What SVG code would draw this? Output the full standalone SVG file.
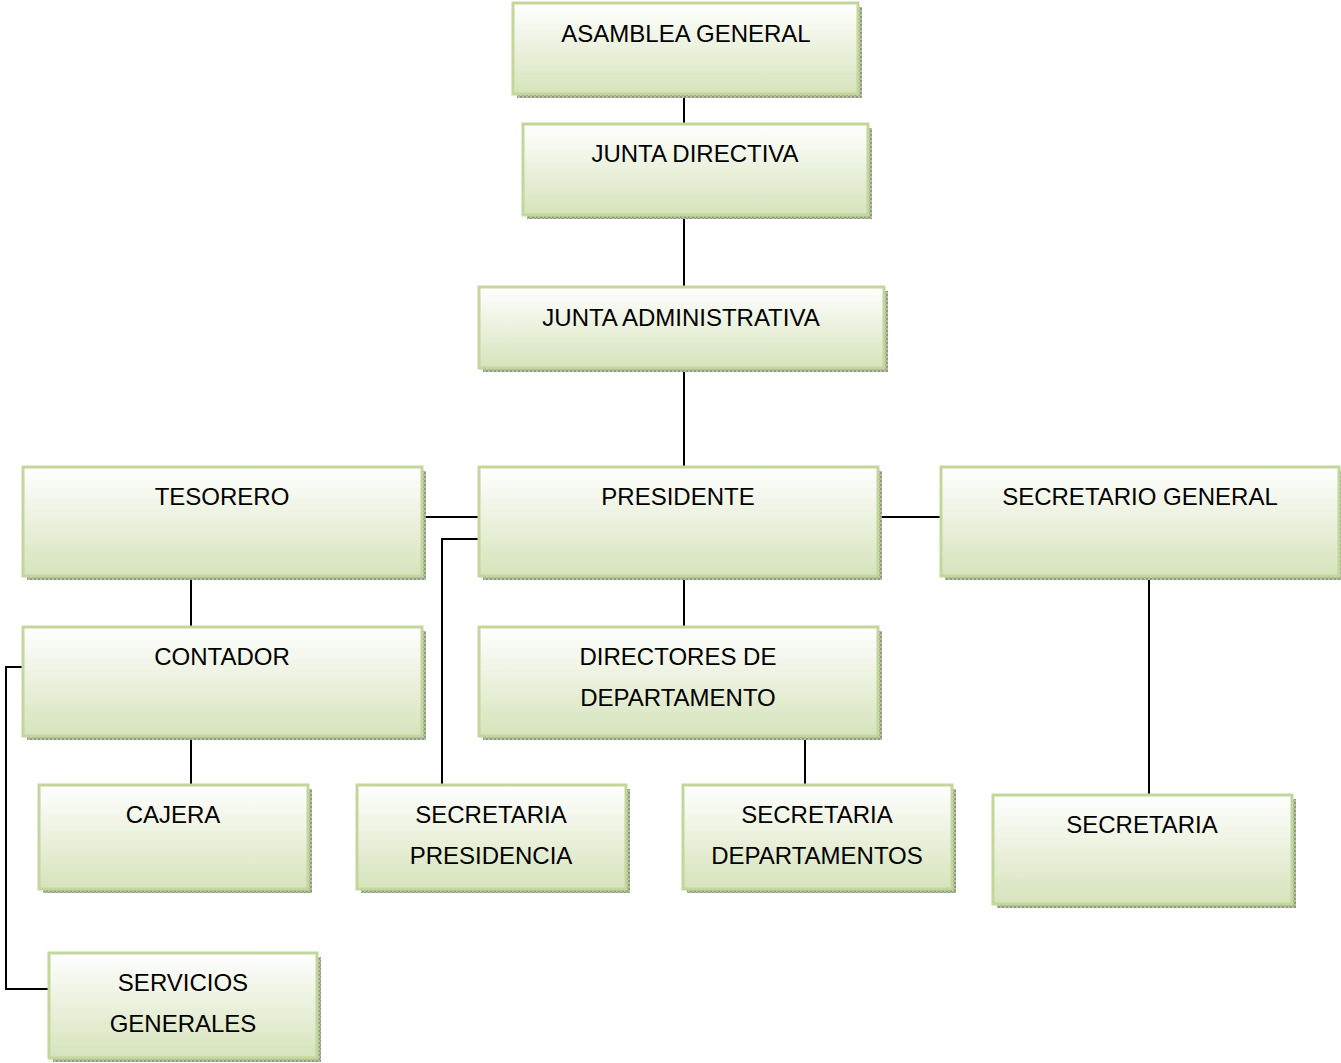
<svg xmlns="http://www.w3.org/2000/svg" width="1341" height="1063" viewBox="0 0 1341 1063">
<defs>
<linearGradient id="g" x1="0" y1="0" x2="0" y2="1">
<stop offset="0" stop-color="#ffffff"/>
<stop offset="1" stop-color="#d6e3bb"/>
</linearGradient>
<pattern id="sh" width="4" height="4" patternUnits="userSpaceOnUse">
<rect width="4" height="4" fill="#b4bfa3"/>
<rect width="2" height="2" fill="#8f9c80"/>
<rect x="2" y="2" width="2" height="2" fill="#8f9c80"/>
</pattern>
</defs>
<style>
.s{fill:url(#sh)}
.b{fill:url(#g);stroke:#c3d69b;stroke-width:3}
.t{font-family:"Liberation Sans",Arial,sans-serif;font-size:24px;fill:#000;text-anchor:middle}
.c{fill:none;stroke:#000;stroke-width:2}
</style>
<rect width="1341" height="1063" fill="#fff"/>
<g id="connectors">
<line class="c" x1="684" y1="94" x2="684" y2="124"/>
<line class="c" x1="684" y1="215" x2="684" y2="287"/>
<line class="c" x1="684" y1="368" x2="684" y2="467"/>
<line class="c" x1="684" y1="576" x2="684" y2="627"/>
<line class="c" x1="422" y1="517" x2="479" y2="517"/>
<line class="c" x1="878" y1="517" x2="941" y2="517"/>
<polyline class="c" points="479,539 442,539 442,785"/>
<line class="c" x1="191" y1="576" x2="191" y2="627"/>
<line class="c" x1="191" y1="736" x2="191" y2="785"/>
<polyline class="c" points="23,667 6,667 6,989 49,989"/>
<line class="c" x1="805" y1="736" x2="805" y2="785"/>
<line class="c" x1="1149" y1="576" x2="1149" y2="795"/>
</g>
<g id="n1"><rect class="s" x="517" y="7" width="345" height="91"/><rect class="b" x="513" y="3" width="345" height="91"/><text class="t" x="686" y="42">ASAMBLEA GENERAL</text></g>
<g id="n2"><rect class="s" x="527" y="128" width="345" height="91"/><rect class="b" x="523" y="124" width="345" height="91"/><text class="t" x="695" y="162">JUNTA DIRECTIVA</text></g>
<g id="n3"><rect class="s" x="483" y="291" width="405" height="81"/><rect class="b" x="479" y="287" width="405" height="81"/><text class="t" x="681" y="326">JUNTA ADMINISTRATIVA</text></g>
<g id="n4"><rect class="s" x="27" y="471" width="399" height="109"/><rect class="b" x="23" y="467" width="399" height="109"/><text class="t" x="222" y="505">TESORERO</text></g>
<g id="n5"><rect class="s" x="483" y="471" width="399" height="109"/><rect class="b" x="479" y="467" width="399" height="109"/><text class="t" x="678" y="505">PRESIDENTE</text></g>
<g id="n6"><rect class="s" x="945" y="471" width="398" height="109"/><rect class="b" x="941" y="467" width="398" height="109"/><text class="t" x="1140" y="505">SECRETARIO GENERAL</text></g>
<g id="n7"><rect class="s" x="27" y="631" width="399" height="109"/><rect class="b" x="23" y="627" width="399" height="109"/><text class="t" x="222" y="665">CONTADOR</text></g>
<g id="n8"><rect class="s" x="483" y="631" width="399" height="109"/><rect class="b" x="479" y="627" width="399" height="109"/><text class="t" x="678" y="665">DIRECTORES DE</text><text class="t" x="678" y="706">DEPARTAMENTO</text></g>
<g id="n9"><rect class="s" x="43" y="789" width="269" height="104"/><rect class="b" x="39" y="785" width="269" height="104"/><text class="t" x="173" y="823">CAJERA</text></g>
<g id="n10"><rect class="s" x="361" y="789" width="269" height="104"/><rect class="b" x="357" y="785" width="269" height="104"/><text class="t" x="491" y="823">SECRETARIA</text><text class="t" x="491" y="864">PRESIDENCIA</text></g>
<g id="n11"><rect class="s" x="687" y="789" width="269" height="104"/><rect class="b" x="683" y="785" width="269" height="104"/><text class="t" x="817" y="823">SECRETARIA</text><text class="t" x="817" y="864">DEPARTAMENTOS</text></g>
<g id="n12"><rect class="s" x="997" y="799" width="299" height="109"/><rect class="b" x="993" y="795" width="299" height="109"/><text class="t" x="1142" y="833">SECRETARIA</text></g>
<g id="n13"><rect class="s" x="53" y="957" width="268" height="105"/><rect class="b" x="49" y="953" width="268" height="105"/><text class="t" x="183" y="991">SERVICIOS</text><text class="t" x="183" y="1032">GENERALES</text></g>
</svg>
